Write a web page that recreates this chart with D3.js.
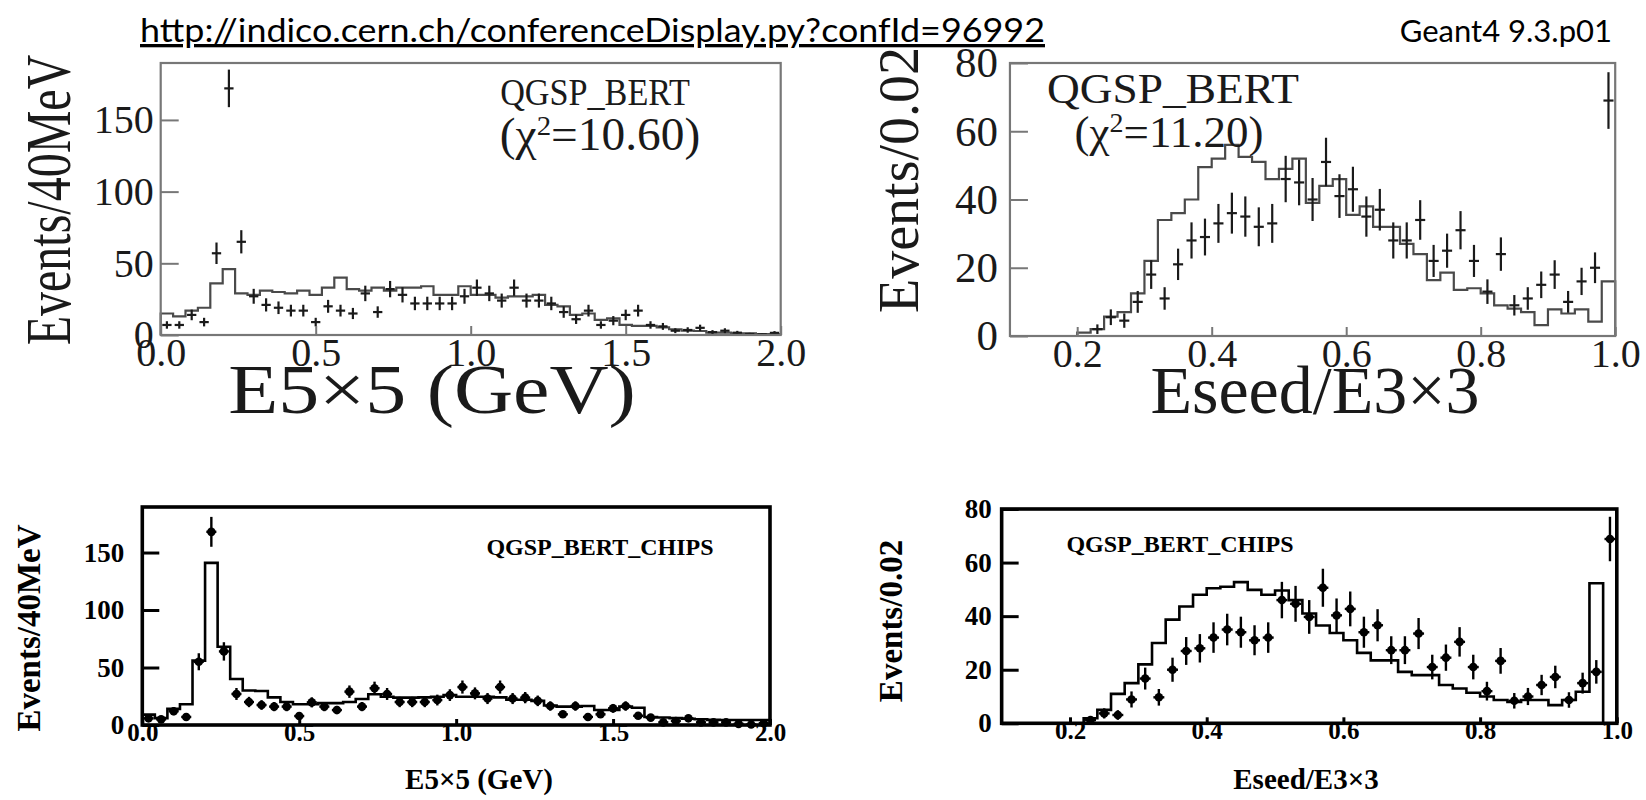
<!DOCTYPE html>
<html><head><meta charset="utf-8">
<script src="https://cdn.jsdelivr.net/npm/d3@7"></script>
<style>html,body{margin:0;padding:0;background:#fff;} svg{display:block;}</style>
</head><body>
<svg id="c" width="1646" height="800"></svg>
<script>
// ---------------- data ----------------
const headerUrl = "http://indico.cern.ch/conferenceDisplay.py?confId=96992";
const headerVersion = "Geant4 9.3.p01";

// E5x5 (GeV): 40 MeV bins from 0.0 to 2.0
const e55BinStart = 0.0, e55BinWidth = 0.04;
const e55Data = [7,7,14,9,57,172,65,27,21,19,17,17,9,20,17,15,29,16,32,28,22,22,22,22,27,33,29,24,33,24,24,22,16,11,17,7,10,14,17,7,6,3,3.5,5,2,3,1.6,0.7,0.5,1.5];
const e55Err = [2.6,2.6,3.7,3,7.5,13.1,8.1,5.2,4.6,4.4,4.1,4.1,3,4.5,4.1,3.9,5.4,4,5.7,5.3,4.7,4.7,4.7,4.7,5.2,5.7,5.4,4.9,5.7,4.9,4.9,4.7,4,3.3,4.1,2.6,3.2,3.7,4.1,2.6,2.4,1.7,1.9,2.2,1.4,1.7,1.3,0.8,0.7,1.2];
const e55BertMC = [15,13,17,19,36,46,29,28,31,30,29,31,28,33,40,32,31,33,31,33,33,34,28,28,34,28,28,26,27,27,28,21,20,14,15,10.5,11.6,7,6.3,6.3,5.3,4,3,2.8,1.6,1.6,1.2,1.2,0.7,0.7];
const e55ChipsData = [5.8,4.9,12,7,55,168,64,27,20,17.4,16,16,7.8,19.7,16,13,29,16,32,27,20,20,20,21.7,26,33,27.5,23,33,23,23.8,21,16.5,9.3,16.5,7,9.3,14.5,16.5,8,6.4,2.3,3.5,5.8,2.3,2.3,2.3,1,0.5,1.5];
const e55ChipsErr = [2.4,2.2,3.5,2.6,7.4,13,8,5.2,4.5,4.2,4,4,2.8,4.4,4,3.6,5.4,4,5.7,5.2,4.5,4.5,4.5,4.7,5.1,5.7,5.2,4.8,5.7,4.8,4.9,4.6,4.1,3,4.1,2.6,3,3.8,4.1,2.8,2.5,1.5,1.9,2.4,1.5,1.5,1.5,1,0.7,1.2];
const e55ChipsMC = [9,6,14,18,56,141,68,40,30,29.6,24,20,18,18,19,19,20,22.6,26.7,24.6,23.8,23.8,24,24.6,26,24.6,24.6,24.6,24,22,22,21,17,16,16,16.5,13,13,16,15,7,6.5,6,5.5,5,4.5,4.3,4.3,4.3,4.3];

// Eseed/E3x3: 0.02 bins from 0.20 to 1.00
const esBinStart = 0.20, esBinWidth = 0.02;
const esData = [null,2,5.5,4.5,10,18,11,21,28,29,33,36,35,32,33,46,45,40,51,41,43,35,37,28,28,34,22,25,31,22,13,24,9,11,15,18,10,16,20,69];
const esErr = [null,1.4,2.3,2.1,3.2,4.2,3.3,4.6,5.3,5.4,5.7,6,5.9,5.7,5.7,6.8,6.7,6.3,7.1,6.4,6.6,5.9,6.1,5.3,5.3,5.8,4.7,5,5.6,4.7,3.6,4.9,3,3.3,3.9,4.2,3.2,4,4.5,8.3];
const esBertMC = [1,2,5.7,7,12.5,22,34,36,40,49.5,52,56,52.5,51,46,49,52,39,44,46,35.5,38,32,32,27,24,16.4,18.6,13.5,14,12.5,9,8,7,3.2,7.8,6.6,7.8,4.2,16];
const esChipsData = [null,1.2,3.7,3.1,8.9,16.7,9.7,20,27,28,32,35,34,31,32,46,44.6,39.7,50.6,40.3,42.7,34,36.6,27.3,27.3,33.5,21,24.5,30.4,21,12,23.3,8.4,10,14.3,17.3,8.7,15,19.2,68.8];
const esChipsErr = [null,1.1,1.9,1.8,3,4.1,3.1,4.5,5.2,5.3,5.7,5.9,5.8,5.6,5.7,6.8,6.7,6.3,7.1,6.3,6.5,5.8,6,5.2,5.2,5.8,4.6,4.9,5.5,4.6,3.5,4.8,2.9,3.2,3.8,4.2,2.9,3.9,4.4,8.3];
const esChipsMC = [0,1.9,5,11,15,22,30,38.7,43.6,48,50.4,51,52.7,49.8,48,49.6,46,41,36.5,33.7,31,26.3,23.5,23.5,19.2,18,18,14.3,13,11.4,10,8.7,8,8.7,8.7,6.8,8.7,11.8,52.3,0];

// axes
const e55XTicks = [0, 0.5, 1.0, 1.5, 2.0];
const e55YTicks = [0, 50, 100, 150];
const esXTicks = [0.2, 0.4, 0.6, 0.8, 1.0];
const esYTicks = [0, 20, 40, 60, 80];
const e55XTitle = "E5\u00D75 (GeV)", e55YTitle = "Events/40MeV";
const esXTitle = "Eseed/E3\u00D73", esYTitle = "Events/0.02";
const bertLabel = "QGSP_BERT", chipsLabel = "QGSP_BERT_CHIPS";
const chi2Bert = ["10.60", "11.20"];

// ---------------- drawing ----------------
const svg = d3.select('#c');
const SERIF = "'Liberation Serif','Times New Roman',serif";
const SANS = "Lato,'Open Sans',sans-serif";

function txt(g, s, x, y, o) {
  const t = g.append('text')
    .attr('transform', `translate(${x},${y}) rotate(${o.rot||0}) scale(${o.sx||1},${o.sy||1})`)
    .attr('text-anchor', o.anchor || 'middle')
    .attr('font-family', o.family || SERIF)
    .attr('font-size', o.size)
    .attr('font-weight', o.weight || 'normal')
    .attr('fill', o.fill || '#111');
  if (o.html) t.html(s); else t.text(s);
  if (o.len) t.attr('textLength', o.len).attr('lengthAdjust', 'spacingAndGlyphs');
  return t;
}

function panel(c) {
  const g = svg.append('g');
  const x = d3.scaleLinear().domain(c.xDomain).range([c.left, c.right]);
  const y = d3.scaleLinear().domain(c.yDomain).range([c.bottom, c.top]);
  const edge = i => c.binStart + i * c.binWidth;

  // simulation histogram (step line)
  let d = `M${x(edge(0))},${y(0)}`;
  c.mc.forEach((v, i) => { d += `V${y(v)}H${x(edge(i + 1))}`; });
  d += `V${y(0)}`;
  g.append('path').attr('d', d).attr('fill', 'none')
    .attr('stroke', c.mcColor).attr('stroke-width', c.mcWidth);

  // data points with error bars
  const pts = c.data.map((v, i) => ({ v, e: c.err[i], xc: edge(i) + c.binWidth / 2 }))
    .filter(p => p.v != null);
  const hw = c.binWidth * c.hFrac / 2;
  g.append('g').selectAll('line').data(pts).join('line')
    .attr('x1', p => x(p.xc)).attr('x2', p => x(p.xc))
    .attr('y1', p => y(Math.max(0, p.v - p.e))).attr('y2', p => y(p.v + p.e))
    .attr('stroke', c.ptColor).attr('stroke-width', c.evWidth);
  g.append('g').selectAll('line').data(pts).join('line')
    .attr('x1', p => x(p.xc - hw)).attr('x2', p => x(p.xc + hw))
    .attr('y1', p => y(p.v)).attr('y2', p => y(p.v))
    .attr('stroke', c.ptColor).attr('stroke-width', c.ehWidth);
  if (c.dotR) {
    g.append('g').selectAll('circle').data(pts).join('circle')
      .attr('cx', p => x(p.xc)).attr('cy', p => y(p.v)).attr('r', c.dotR)
      .attr('fill', c.ptColor);
  }

  // axes
  const ya = d3.axisLeft(y).tickValues(c.yTicks).tickSizeInner(-c.yTickLen).tickSizeOuter(0)
    .tickPadding(c.yPad).tickFormat(d3.format('d'));
  const yg = g.append('g').attr('transform', `translate(${c.left},0)`).call(ya);
  yg.select('.domain').remove();
  yg.selectAll('line').attr('stroke', c.frameColor).attr('stroke-width', c.tickWidth);
  yg.selectAll('text').attr('font-family', SERIF).attr('font-size', c.yTickSize || c.tickSize)
    .attr('font-weight', c.weight).attr('fill', c.textColor);

  const xa = d3.axisBottom(x).tickValues(c.xTicks).tickSizeInner(-c.xTickLen).tickSizeOuter(0)
    .tickFormat(d3.format('.1f'));
  const xg = g.append('g').attr('transform', `translate(0,${c.bottom})`).call(xa);
  xg.select('.domain').remove();
  xg.selectAll('line').attr('stroke', c.frameColor).attr('stroke-width', c.tickWidth);
  xg.selectAll('text').attr('y', c.xLabOff).attr('dy', null)
    .attr('font-family', SERIF).attr('font-size', c.tickSize)
    .attr('font-weight', c.weight).attr('fill', c.textColor);

  // frame
  g.append('rect').attr('x', c.left).attr('y', c.top)
    .attr('width', c.right - c.left).attr('height', c.bottom - c.top)
    .attr('fill', 'none').attr('stroke', c.frameColor).attr('stroke-width', c.frameWidth);

  // titles
  txt(g, c.xTitle, c.xTitlePos[0], c.xTitlePos[1], { size: c.xTitleSize, weight: c.weight, fill: c.textColor, sx: c.xTitleSx || 1 });
  txt(g, c.yTitle, c.yTitlePos[0], c.yTitlePos[1], { size: c.yTitleSize, weight: c.weight, fill: c.textColor, rot: -90, sx: c.yTitleSx || 1, sy: c.yTitleSy || 1 });
  c.labels.forEach(l => txt(g, l.s, l.x, l.y, { size: l.size, weight: c.weight, fill: c.textColor, html: l.html, sx: l.sx || 1 }));
  return g;
}

// header
txt(svg, headerUrl, 140, 42, { size: 33, anchor: 'start', family: SANS, fill: '#000', len: 905 })
  .attr('text-decoration', 'underline');
txt(svg, headerVersion, 1612, 42, { size: 31, anchor: 'end', family: SANS, fill: '#000' });

const topStyle = {
  mcColor: '#4a4a4a', mcWidth: 2.2, ptColor: '#1a1a1a', evWidth: 2.2, ehWidth: 2.2, hFrac: 0.75, dotR: 0,
  frameColor: '#777', frameWidth: 2.2, tickWidth: 2, yTickLen: 18, xTickLen: 9, yPad: 7,
  tickSize: 40, weight: 'normal', textColor: '#1a1a1a', xLabOff: 31
};
const botStyle = {
  mcColor: '#000', mcWidth: 2.6, ptColor: '#000', evWidth: 2.4, ehWidth: 2.4, hFrac: 0.8, dotR: 4.3,
  frameColor: '#000', frameWidth: 3.6, tickWidth: 3, yTickLen: 17, xTickLen: 6, yPad: 7,
  tickSize: 25, yTickSize: 27, weight: 'bold', textColor: '#000', xLabOff: 16
};

// top-left: E5x5, QGSP_BERT
panel(Object.assign({}, topStyle, {
  left: 160.7, right: 780.7, top: 63, bottom: 335,
  xDomain: [0, 2], yDomain: [0, 189.7], binStart: e55BinStart, binWidth: e55BinWidth,
  data: e55Data, err: e55Err, mc: e55BertMC, xTicks: e55XTicks, yTicks: e55YTicks,
  xTitle: e55XTitle, yTitle: e55YTitle, xTitlePos: [432, 413], yTitlePos: [70, 200],
  xTitleSize: 70, xTitleSx: 1.17, yTitleSize: 48, yTitleSy: 1.3,
  labels: [
    { s: bertLabel, x: 595, y: 105, size: 38, sx: 0.9 },
    { s: `(\u03C7<tspan dy="-15" font-size="28">2</tspan><tspan dy="15">=${chi2Bert[0]})</tspan>`, x: 600, y: 150, size: 46, sx: 1.03, html: true }
  ]
}));

// top-right: Eseed/E3x3, QGSP_BERT
panel(Object.assign({}, topStyle, {
  left: 1009.95, right: 1615.2, top: 63, bottom: 336,
  xDomain: [0.1, 1.0], yDomain: [0, 80], binStart: esBinStart, binWidth: esBinWidth,
  data: esData, err: esErr, mc: esBertMC, xTicks: esXTicks, yTicks: esYTicks,
  xTitle: esXTitle, yTitle: esYTitle, xTitlePos: [1315, 413], yTitlePos: [918, 180],
  xTitleSize: 68, yTitleSize: 56, yTickSize: 43, yPad: 12,
  labels: [
    { s: bertLabel, x: 1173, y: 103, size: 42, sx: 1.08 },
    { s: `(\u03C7<tspan dy="-15" font-size="28">2</tspan><tspan dy="15">=${chi2Bert[1]})</tspan>`, x: 1169, y: 147, size: 45, html: true }
  ]
}));

// bottom-left: E5x5, QGSP_BERT_CHIPS
panel(Object.assign({}, botStyle, {
  left: 142.3, right: 770, top: 507, bottom: 725,
  xDomain: [0, 2], yDomain: [0, 189.6], binStart: e55BinStart, binWidth: e55BinWidth,
  data: e55ChipsData, err: e55ChipsErr, mc: e55ChipsMC, xTicks: e55XTicks, yTicks: e55YTicks,
  xTitle: e55XTitle, yTitle: e55YTitle, xTitlePos: [479, 789], yTitlePos: [40, 628],
  xTitleSize: 29, yTitleSize: 33, yPad: 18,
  labels: [{ s: chipsLabel, x: 600, y: 555, size: 24 }]
}));

// bottom-right: Eseed/E3x3, QGSP_BERT_CHIPS
panel(Object.assign({}, botStyle, {
  left: 1001.65, right: 1616.8, top: 509, bottom: 723.3,
  xDomain: [0.1, 1.0], yDomain: [0, 80], binStart: esBinStart, binWidth: esBinWidth,
  data: esChipsData, err: esChipsErr, mc: esChipsMC, xTicks: esXTicks, yTicks: esYTicks,
  xTitle: esXTitle, yTitle: esYTitle, xTitlePos: [1306, 789], yTitlePos: [902, 621],
  xTitleSize: 29, yTitleSize: 33, yPad: 10,
  labels: [{ s: chipsLabel, x: 1180, y: 552, size: 24 }]
}));
</script>
</body></html>
